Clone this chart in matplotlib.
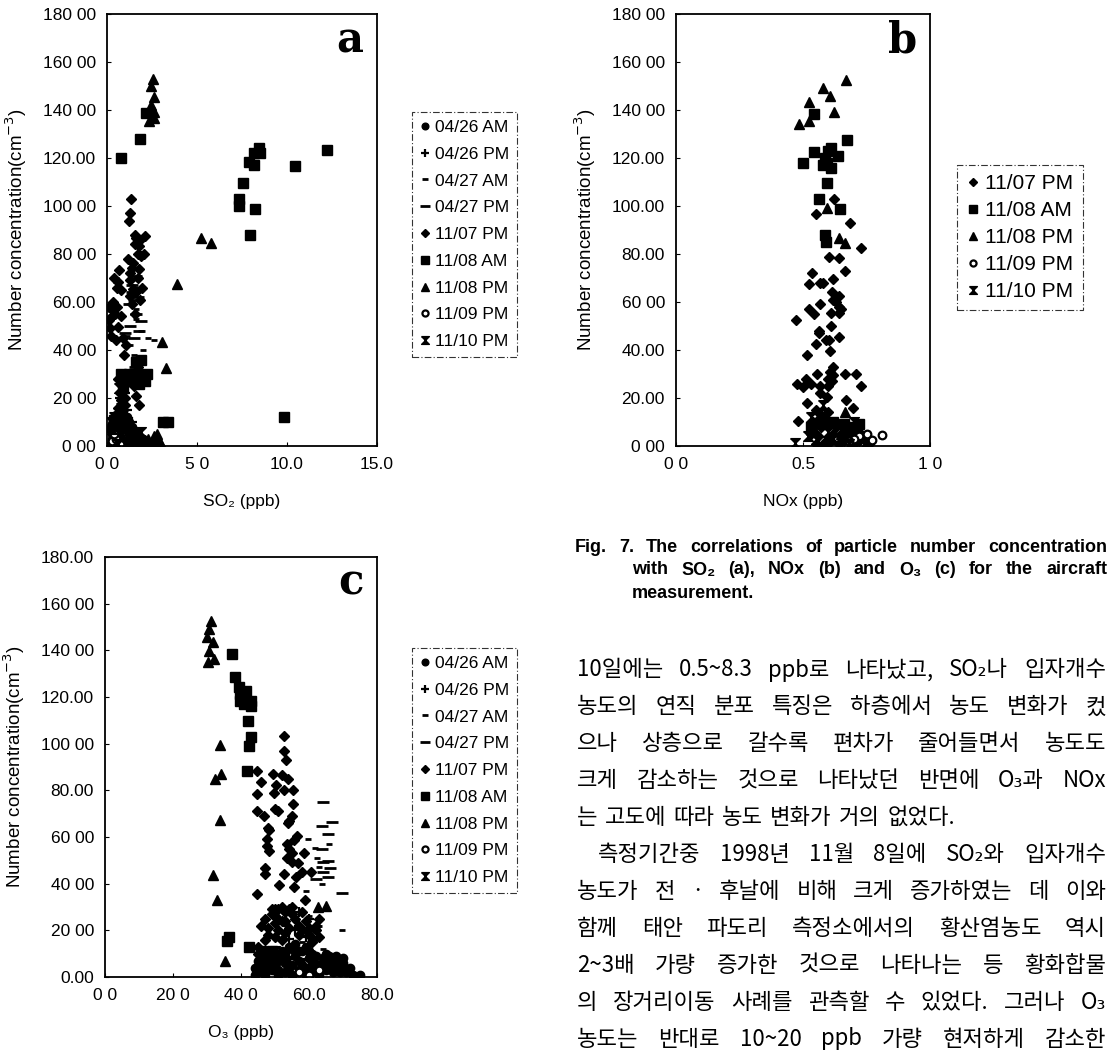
import matplotlib
matplotlib.use("Agg")
import matplotlib.pyplot as plt
from matplotlib.lines import Line2D

W, H = 1112, 1052

# ---------------- data ----------------
# Panel a : SO2 (ppb) vs number concentration (cm-3)
A_0426AM = [(0.2,1),(0.4,2),(0.6,1),(0.8,3),(1.0,2),(0.3,5),(0.5,6),(0.7,4),(0.9,7),(1.2,5),(0.4,9),(0.8,10),
            (1.1,8),(1.4,3),(0.25,3),(0.6,8),(1.0,0.5),(1.3,1),(1.6,2),(1.8,1),(2.0,3),(0.15,7),(0.35,11),(1.5,6),
            (1.2,10),(0.5,13),(0.3,9),(1.1,12),(0.7,7),(1.4,8)]
A_0426PM = [(0.6,4),(0.9,6),(1.2,3),(0.8,12),(1.1,15),(1.4,10),(0.7,20),(1.0,22),(1.5,2),(1.7,5),(0.7,14),(0.9,17),(0.8,26)]
A_0427AM = [(1.6,53),(1.9,48),(2.3,45),(1.3,42),(1.5,38),(1.8,36),(2.0,40),(1.4,33),(1.1,46),(1.6,57),(2.6,44),(1.2,64)]
A_0427PM = [(1.4,67),(1.7,66),(1.5,61),(1.2,59),(1.6,55),(1.9,52),(1.3,50),(1.8,48),(1.5,45),(1.0,47),(1.7,62),(1.6,71)]
A_1107PM = [(1.33,103),(1.26,97),(1.2,93.6),(2.1,87.6),(1.6,86.8),(1.8,83.4),(2.05,80),(1.17,78),(0.69,73.3),(0.62,68.5),
            (0.76,65),(0.3,56.7),(0.75,54),(0.12,52.6),(0.15,49),(0.6,49.6),(0.2,45.8),(0.9,45),(1.05,42),(0.92,37.9),
            (1.47,76.3),(1.75,73.6),(1.47,65.6),(1.94,66),(1.3,62.6),(1.81,61),(1.4,59),(1.58,55),(0.4,70),(0.55,58),
            (0.45,55),(0.1,53),(0.35,60),(1.9,36),(1.7,32.8),(1.6,21),(1.8,17),(1.5,25),(1.7,80),(0.5,44),(1.55,84),
            (1.9,79),(1.25,72),(1.7,70),(0.7,13),(0.9,15),(0.8,19),(0.7,22),(0.9,25),(0.6,28),(1.0,17),(0.6,16),
            (1.55,88),(1.85,86),(1.4,74),(1.6,64),(1.25,69),(0.55,66),(0.1,58),(1.0,20),(0.75,27),(1.1,29)]
A_1108AM = [(0.76,120),(1.83,128),(2.15,138.6),(7.57,109.4),(7.35,103),(7.35,100),(8.2,98.7),(7.94,88),(7.89,118.5),
            (8.17,117),(8.17,122),(8.46,124),(8.5,122),(10.44,116.5),(12.2,123.5),(9.85,12.2),(3.1,10),(3.4,10),
            (0.8,30),(1.2,30),(1.6,30),(2.0,29),(2.1,27),(1.0,27),(0.9,24),(1.4,28),(1.9,36),(1.6,35),(0.8,10),
            (0.5,8),(0.4,11),(1.8,26),(2.2,30)]
A_1108PM = [(2.54,153),(2.44,150),(2.6,145.5),(2.6,139),(2.33,135.5),(2.6,136.5),(5.22,86.8),(5.76,84.7),(3.9,67.5),
            (3.07,43.5),(3.26,32.6),(2.3,3),(2.6,4),(2.9,2),(2.5,1),(2.8,5),(3.0,1),(2.2,1.5),(2.7,2),(2.45,142)]
A_1109PM = [(0.3,2),(0.5,3),(0.7,1),(0.4,5)]
A_1110PM = [(0.3,7),(0.5,9),(0.7,10),(0.9,11),(1.1,9),(0.6,1),(1.0,1),(1.3,6),(0.4,12),(0.2,10),(0.75,16),
            (0.85,21),(0.65,24),(0.95,29),(1.6,4),(1.9,6)]

# Panel b : NOx (ppb) vs number concentration (cm-3)
B_1107PM = [(0.622,103),(0.551,96.7),(0.685,92.8),(0.727,82.5),(0.604,78.6),(0.64,78.3),(0.666,72.8),(0.534,72),
            (0.62,69.5),(0.525,67.6),(0.565,68),(0.58,68),(0.614,64),(0.64,62.5),(0.568,59),(0.64,58),(0.65,57),
            (0.525,57),(0.545,55),(0.472,52.3),(0.61,55.5),(0.64,55.5),(0.563,48),(0.563,47),(0.61,50),(0.55,42.6),
            (0.59,44),(0.604,44),(0.64,45.5),(0.606,39.5),(0.515,38),(0.475,26),(0.51,28),(0.555,30),(0.607,31),
            (0.62,33),(0.667,30),(0.71,30),(0.727,25),(0.5,24.7),(0.53,26),(0.565,25),(0.6,28),(0.615,27),(0.565,22),
            (0.596,20.5),(0.668,19),(0.696,16),(0.515,18),(0.48,10.5),(0.55,15),(0.57,13),(0.6,14),(0.62,61),
            (0.63,60),(0.585,87),(0.59,86),(0.62,29.5),(0.6,25),
            (0.53,5),(0.56,4),(0.58,1),(0.6,3),(0.62,5),(0.64,1),(0.66,2),(0.68,4),(0.7,1),(0.72,2),(0.74,3),
            (0.76,1),(0.55,1),(0.57,8),(0.59,11),(0.63,8),(0.67,6),(0.54,10),(0.61,2),(0.65,4),(0.69,6),(0.71,6),
            (0.73,5),(0.56,11),(0.6,9)]
B_1108AM = [(0.543,138.5),(0.674,127.7),(0.61,124),(0.545,122.3),(0.637,121),(0.5,118),(0.585,120),(0.595,118),
            (0.61,116),(0.596,109.5),(0.564,103),(0.646,98.8),(0.587,88),(0.59,85),(0.6,123),(0.58,117),(0.53,8),
            (0.58,9),(0.62,10),(0.66,9),(0.7,8),(0.72,9)]
B_1108PM = [(0.668,152.5),(0.58,149),(0.606,145.8),(0.525,143.4),(0.623,139),(0.525,135.6),(0.483,134),(0.596,99),
            (0.64,86.5),(0.666,84.5),(0.667,14),(0.65,5),(0.7,4)]
B_1109PM = [(0.81,4.6),(0.77,2.6),(0.72,4),(0.7,3),(0.75,5),(0.68,2)]
B_1110PM = [(0.468,1.1),(0.52,4),(0.56,2),(0.6,1),(0.64,3),(0.68,1),(0.74,1),(0.55,7),(0.6,6),(0.65,7),(0.7,10),
            (0.53,12),(0.58,17)]

# Panel c : O3 (ppb) vs number concentration (cm-3)
C_0426AM = [(45,2),(47,1),(49,3),(51,1),(53,2),(55,1),(57,3),(59,1),(61,2),(63,1),(65,3),(67,2),(69,4),(71,2),(73,1),
            (46,5),(50,5),(54,4),(58,5),(62,4),(66,5),(70,6),(48,8),(52,8),(56,9),(60,8),(64,8),(68,7),(55,12),
            (58,11),(61,10),(52,11),(65,10),(44,1),(47,4),(49,6),(51,3),(53,6),(55,5),(57,7),(59,4),(61,6),(63,5),
            (65,6),(67,4),(69,2),(48,11),(50,9),(53,10),(57,11),(60,11),(62,9),(64,6),(66,9),(68,9),(70,8),(72,4),
            (56,14),(54,13),(59,13),(51,7),(45,7),(44,4),(75,1)]
C_0426PM = [(54,16.2),(59,17.3),(53.6,22),(56,20),(60,25),(57,28)]
C_0427AM = [(59.8,59.3),(62.3,50.8),(62.8,47),(63.7,39.8),(59,37),(61.8,55.4),(66,57),(69.6,20),(60,26),(63,22),
            (58,15),(64,12),(72,1),(74,1)]
C_0427PM = [(64.2,75.2),(63.7,64.8),(66.9,66.3),(65.7,61.5),(63.7,54.7),(65.7,49.6),(64.2,49.3),(66.2,46.7),
            (65.7,43),(69.6,35.8),(62,42),(64,45)]
C_1107PM = [(52.5,103.5),(52.5,97),(53.2,93),(44.8,88.2),(45.9,83.5),(49.5,87),(52,86.4),(53.9,85),(50.4,82.5),
            (44.6,78.5),(49.7,79),(52.5,80),(55.4,80),(44.6,71),(46.8,69),(50.8,71.3),(55.2,74),(54.9,69),(53.9,66),
            (48.3,62.8),(47.5,59.3),(47.5,56),(48.3,54),(53.4,57),(54.2,55),(53.4,50.8),(54.9,49.3),(56.8,49),
            (56.6,60.4),(55.7,58.6),(58.4,53),(47.2,46.7),(47.2,44),(52.5,44),(51.2,39.3),(56.3,43),(57.9,45),
            (60.5,45),(44.6,35.7),(55.7,38.7),(58.9,33),(50,72),(54,67),(48,64),(55,53),(49,29),(51,29),(53,28),
            (55,30),(50,26),(52,24),(47,25),(48,21),(51,20),(53,19),(55,27),(57,22),(58,20),(60,18),(62,20),(61,15),
            (63,25),(47,16),(45,10),(49,10),(45,13),(47,7),(49,27),(50,29),(52,30),(54,29),(50,23),(51,25),(53,24),
            (54,21),(56,25),(58,28),(59,24),(60,21),(62,22),(48,18),(50,17),(52,16),(57,18),(63,17),(46,22)]
C_1108AM = [(37.3,138.6),(38.2,128.4),(39.5,124.5),(39.7,121.3),(39.7,118.5),(41.4,122.7),(42.8,118.4),(42.8,116),
            (42.2,109.9),(42.8,103),(42.4,99),(41.7,88.2),(42.4,12.7),(36.6,17.2),(35.8,15.6),(40,120),(41,117),
            (46,11),(49,11)]
C_1108PM = [(31.2,152.6),(30.6,149),(30.1,145.8),(31.7,143.4),(30.7,139.8),(30.4,134.8),(32.1,136.3),(33.8,99.5),
            (32.3,85),(34,87),(33.8,67.5),(31.9,43.6),(33,33),(35.4,6.8),(65,30.4),(62.5,30),(61,17)]
C_1109PM = [(57,2),(60,1),(63,3)]
C_1110PM = [(46,10),(50,11),(54,7),(58,6),(62,7),(66,8),(70,3)]

# tick labels (as printed)
y_ticks = [0, 20, 40, 60, 80, 100, 120, 140, 160, 180]
ylab_a = ["0 00", "20 00", "40 00", "60.00", "80 00", "100 00", "120.00", "140 00", "160 00", "180 00"]
ylab_b = ["0 00", "20.00", "40.00", "60 00", "80.00", "100.00", "120.00", "140 00", "160 00", "180 00"]
ylab_c = ["0.00", "20 00", "40 00", "60 00", "80.00", "100 00", "120.00", "140 00", "160 00", "180.00"]
x_ticks_a = [0, 5, 10, 15]
xlab_a = ["0 0", "5 0", "10.0", "15.0"]
x_ticks_b = [0, 0.5, 1.0]
xlab_b = ["0 0", "0.5", "1 0"]
x_ticks_c = [0, 20, 40, 60, 80]
xlab_c = ["0 0", "20 0", "40 0", "60.0", "80.0"]

caption_lines = ["Fig. 7. The correlations of particle number concentration",
                 "with SO\u2082 (a), NOx (b) and O\u2083 (c) for the aircraft",
                 "measurement."]
body_lines = ["10일에는 0.5~8.3 ppb로 나타났고, SO\u2082나 입자개수",
              "농도의 연직 분포 특징은 하층에서 농도 변화가 컸",
              "으나 상층으로 갈수록 편차가 줄어들면서 농도도",
              "크게 감소하는 것으로 나타났던 반면에 O\u2083과 NOx",
              "는 고도에 따라 농도 변화가 거의 없었다.",
              "측정기간중 1998년 11월 8일에 SO\u2082와 입자개수",
              "농도가 전 · 후날에 비해 크게 증가하였는 데 이와",
              "함께 태안 파도리 측정소에서의 황산염농도 역시",
              "2~3배 가량 증가한 것으로 나타나는 등 황화합물",
              "의 장거리이동 사례를 관측할 수 있었다. 그러나 O\u2083",
              "농도는 반대로 10~20 ppb 가량 현저하게 감소한"]

# ---------------- styling ----------------
SANS = ["Liberation Sans", "DejaVu Sans"]
KR = ["Noto Sans CJK KR", "DejaVu Sans"]
plt.rcParams["font.family"] = SANS

hourglass = [(-1, 1), (1, 1), (-1, -1), (1, -1), (-1, 1)]
styles = {
    "04/26 AM": dict(marker="o", ms=6, mfc="black", mec="black", mew=1),
    "04/26 PM": dict(marker="+", ms=7, mfc="black", mec="black", mew=1.6),
    "04/27 AM": dict(marker="_", ms=5, mfc="black", mec="black", mew=2),
    "04/27 PM": dict(marker="_", ms=9, mfc="black", mec="black", mew=2),
    "11/07 PM": dict(marker="D", ms=5.5, mfc="black", mec="black", mew=1),
    "11/08 AM": dict(marker="s", ms=6.5, mfc="black", mec="black", mew=1),
    "11/08 PM": dict(marker="^", ms=7, mfc="black", mec="black", mew=1),
    "11/09 PM": dict(marker="o", ms=5.5, mfc="white", mec="black", mew=1.6),
    "11/10 PM": dict(marker=hourglass, ms=7, mfc="black", mec="black", mew=1),
}

fig = plt.figure(figsize=(W / 100, H / 100), dpi=100)
fig.patch.set_facecolor("white")


def px_axes(x0, y0, x1, y1):
    return fig.add_axes([x0 / W, 1 - y1 / H, (x1 - x0) / W, (y1 - y0) / H])


def draw_panel(ax, data, xlim, xticks, xlabels, ylabels, xlabel, letter, legend_xy,
               leg_size=12.5, leg_spacing=0.67):
    for name, pts in data:
        xs = [p[0] for p in pts]
        ys = [p[1] for p in pts]
        ax.plot(xs, ys, linestyle="none", **styles[name])
    ax.set_xlim(*xlim)
    ax.set_ylim(0, 180)
    ax.set_xticks(xticks)
    ax.set_xticklabels(xlabels)
    ax.set_yticks(y_ticks)
    ax.set_yticklabels(ylabels)
    ax.tick_params(direction="in", length=3, width=0.8, labelsize=12.5, pad=8)
    for s in ax.spines.values():
        s.set_linewidth(1.3)
    ax.set_xlabel(xlabel, fontsize=12.5, labelpad=16)
    ax.set_ylabel("Number concentration(cm$^{-3}$)", fontsize=13.5, labelpad=10)
    ax.text(0.95, 0.91, letter, transform=ax.transAxes, ha="right", va="baseline",
            fontsize=30, fontweight="bold", family="DejaVu Serif")
    handles = []
    for name, _ in data:
        st = dict(styles[name])
        st["ms"] = st["ms"] * 0.8
        handles.append(Line2D([], [], linestyle="none", **st))
    leg = ax.legend(handles, [n for n, _ in data], loc="upper left",
                    bbox_to_anchor=(legend_xy[0] / W, 1 - legend_xy[1] / H),
                    bbox_transform=fig.transFigure, borderaxespad=0, frameon=True, fancybox=False,
                    edgecolor="black", fontsize=leg_size, handlelength=0.6, handletextpad=0.3,
                    labelspacing=leg_spacing, borderpad=0.45)
    fr = leg.get_frame()
    fr.set_linestyle((0, (6, 2, 1, 2)))
    fr.set_linewidth(0.8)


ax_a = px_axes(107, 14, 377, 446)
draw_panel(ax_a, [("04/26 AM", A_0426AM), ("04/26 PM", A_0426PM), ("04/27 AM", A_0427AM),
                  ("04/27 PM", A_0427PM), ("11/07 PM", A_1107PM), ("11/08 AM", A_1108AM),
                  ("11/08 PM", A_1108PM), ("11/09 PM", A_1109PM), ("11/10 PM", A_1110PM)],
           (0, 15), x_ticks_a, xlab_a, ylab_a, "SO\u2082 (ppb)", "a", (412, 112))

ax_b = px_axes(676, 14, 930, 446)
draw_panel(ax_b, [("11/07 PM", B_1107PM), ("11/08 AM", B_1108AM), ("11/08 PM", B_1108PM),
                  ("11/09 PM", B_1109PM), ("11/10 PM", B_1110PM)],
           (0, 1.0), x_ticks_b, xlab_b, ylab_b, "NOx (ppb)", "b", (957, 165),
           leg_size=15, leg_spacing=0.38)

ax_c = px_axes(105, 557, 377, 977)
draw_panel(ax_c, [("04/26 AM", C_0426AM), ("04/26 PM", C_0426PM), ("04/27 AM", C_0427AM),
                  ("04/27 PM", C_0427PM), ("11/07 PM", C_1107PM), ("11/08 AM", C_1108AM),
                  ("11/08 PM", C_1108PM), ("11/09 PM", C_1109PM), ("11/10 PM", C_1110PM)],
           (0, 80), x_ticks_c, xlab_c, ylab_c, "O\u2083 (ppb)", "c", (412, 648))

renderer = fig.canvas.get_renderer()


def text_line(line, x0, x1, y, size, family, weight="normal", justify=True):
    words = line.split(" ")
    objs = [fig.text(0, 1 - y / H, w, fontsize=size, family=family, fontweight=weight,
                     ha="left", va="center") for w in words]
    widths = [o.get_window_extent(renderer).width for o in objs]
    if justify and len(words) > 1:
        gap = (x1 - x0 - sum(widths)) / (len(words) - 1)
    else:
        gap = size * 100 / 72 * 0.33
    x = x0
    for o, wdt in zip(objs, widths):
        o.set_x(x / W)
        x += wdt + gap


# caption
text_line(caption_lines[0], 575, 1107, 547, 13, SANS, "bold")
text_line(caption_lines[1], 632, 1107, 570, 13, SANS, "bold")
text_line(caption_lines[2], 632, 1107, 593, 13, SANS, "bold", justify=False)

# body text
y0, dy = 670, 36.9
for i, line in enumerate(body_lines):
    x0 = 598 if i == 5 else 577
    text_line(line, x0, 1106, y0 + i * dy, 16, KR, justify=(i != 4))

fig.savefig("out.png", dpi=100, facecolor="white")
